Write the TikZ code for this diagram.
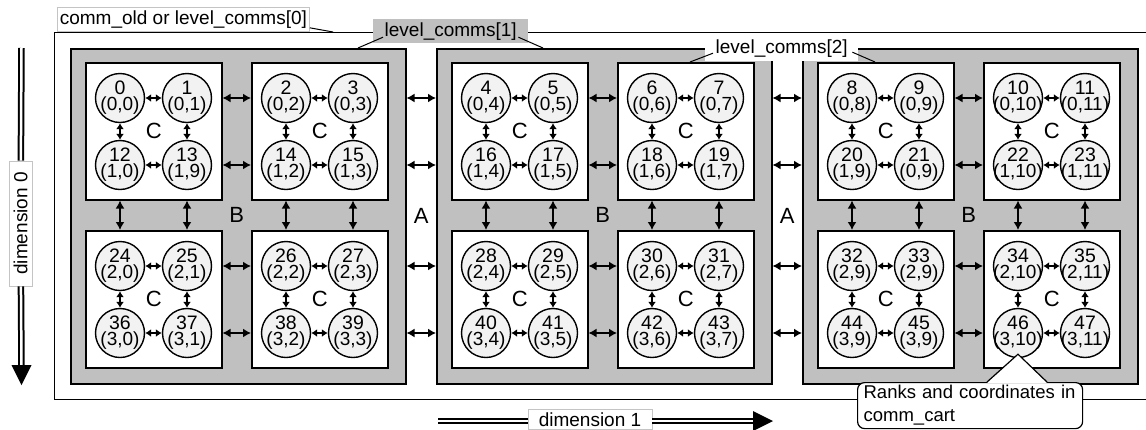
\documentclass[tikz,border=0pt]{standalone}
\usepackage{fontspec}
\setmainfont{Liberation Sans}
\usetikzlibrary{arrows.meta,calc}
\definecolor{grayfill}{HTML}{C0C0C0}
\definecolor{circfill}{HTML}{F2F2F2}
\definecolor{lblborder}{HTML}{C4C4C4}
\begin{document}
\begin{tikzpicture}[x=1pt,y=-1pt,
  outerbox/.style={draw=black, line width=1.3pt, inner sep=0pt, anchor=north west},
  graybox/.style={draw=black, fill=grayfill, line width=1.5pt, inner sep=0pt, anchor=north west, minimum width=335pt, minimum height=335pt},
  whitebox/.style={draw=black, fill=white, line width=1.5pt, inner sep=0pt, anchor=north west, minimum width=136pt, minimum height=137pt},
  rank/.style={circle, draw=black, fill=circfill, line width=1.4pt, minimum size=49pt, inner sep=-10pt, align=center, font=\fontsize{19.5}{16}\selectfont},
  tiny arrow/.style={line width=1.5pt, {Latex[length=6pt,width=8pt]}-{Latex[length=6pt,width=8pt]}},
  link/.style={line width=1.5pt, {Latex[length=8pt,width=9pt]}-{Latex[length=8pt,width=9pt]}},
  letter/.style={font=\fontsize{22}{24}\selectfont, inner sep=0pt},
  tag/.style={font=\fontsize{19}{22}\selectfont, inner sep=0pt},
  framedtag/.style={tag, fill=white, draw=lblborder, line width=0.8pt},
  pointer/.style={line width=1pt},
  dimline/.style={double=white, double distance=2.5pt, line width=2pt},
]
\useasboundingbox (0,0) rectangle (1146,429);

% outer communicator box
\node[outerbox, minimum width=1110pt, minimum height=367pt] (outer) at (54,32) {};

% gray boxes
\foreach \g in {0,1,2}{
  \pgfmathsetmacro\gx{70+366*\g}
  \node[graybox] (g\g) at (\gx,48) {};
}

% white boxes and C letters
\foreach \R in {0,1}{\foreach \B in {0,...,5}{
  \pgfmathsetmacro\bx{85+366*int(\B/2)+166*mod(\B,2)}
  \pgfmathsetmacro\by{62+168*\R}
  \node[whitebox] (w\R-\B) at (\bx,\by) {};
  \node[letter] (C\R\B) at (w\R-\B) {C};
}}

% B and A letters
\foreach \g in {0,1,2}{
  \pgfmathtruncatemacro\bl{2*\g}
  \pgfmathtruncatemacro\br{2*\g+1}
  \node[letter] (B\g) at ($(w0-\bl.south east)!0.5!(w1-\br.north west)$) {B};
}
\foreach \g in {0,1}{
  \pgfmathtruncatemacro\gg{\g+1}
  \node[letter] (A\g) at ($(g\g.east)!0.5!(g\gg.west)$) {A};
}

% ranks
\foreach \nn/\pa/\pb in {0/0/0,1/0/1,2/0/2,3/0/3,4/0/4,5/0/5,6/0/6,7/0/7,8/0/8,9/0/9,10/0/10,11/0/11,
  12/1/0,13/1/9,14/1/2,15/1/3,16/1/4,17/1/5,18/1/6,19/1/7,20/1/9,21/0/9,22/1/10,23/1/11,
  24/2/0,25/2/1,26/2/2,27/2/3,28/2/4,29/2/5,30/2/6,31/2/7,32/2/9,33/2/9,34/2/10,35/2/11,
  36/3/0,37/3/1,38/3/2,39/3/3,40/3/4,41/3/5,42/3/6,43/3/7,44/3/9,45/3/9,46/3/10,47/3/11}{
  \pgfmathtruncatemacro\rr{int(\nn/12)}
  \pgfmathtruncatemacro\cc{mod(\nn,12)}
  \pgfmathsetmacro\px{85+366*int(\cc/4)+166*mod(int(\cc/2),2)+35+67*mod(\cc,2)}
  \pgfmathsetmacro\py{62+168*int(\rr/2)+36+67*mod(\rr,2)}
  \node[rank] (c\nn) at (\px,\py) {\nn\\{\fontsize{19}{16}\selectfont(\pa,\pb)}};
}

% arrows between ranks inside a white box
\foreach \rr in {0,...,3}{\foreach \k in {0,...,5}{
  \pgfmathtruncatemacro\na{12*\rr+2*\k}
  \pgfmathtruncatemacro\nb{\na+1}
  \draw[tiny arrow] (c\na) -- (c\nb);
}}
\foreach \R in {0,1}{\foreach \cc in {0,...,11}{
  \pgfmathtruncatemacro\na{24*\R+\cc}
  \pgfmathtruncatemacro\nb{\na+12}
  \draw[tiny arrow] (c\na) -- (c\nb);
}}

% arrows between white boxes (horizontal)
\foreach \g in {0,1,2}{\foreach \rr in {0,...,3}{
  \pgfmathtruncatemacro\na{12*\rr+4*\g+1}
  \pgfmathtruncatemacro\nb{\na+1}
  \pgfmathtruncatemacro\R{int(\rr/2)}
  \pgfmathtruncatemacro\bl{2*\g}
  \pgfmathtruncatemacro\br{2*\g+1}
  \draw[link] (c\na -| w\R-\bl.east) -- (c\nb -| w\R-\br.west);
}}
% arrows between gray boxes
\foreach \g in {0,1}{\foreach \rr in {0,...,3}{
  \pgfmathtruncatemacro\na{12*\rr+4*\g+3}
  \pgfmathtruncatemacro\nb{\na+1}
  \pgfmathtruncatemacro\gg{\g+1}
  \draw[link] (c\na -| g\g.east) -- (c\nb -| g\gg.west);
}}
% arrows between white boxes (vertical)
\foreach \cc in {0,...,11}{
  \pgfmathtruncatemacro\na{12+\cc}
  \pgfmathtruncatemacro\nb{24+\cc}
  \pgfmathtruncatemacro\B{int(\cc/2)}
  \draw[link] (c\na |- w0-\B.south) -- (c\nb |- w1-\B.north);
}

% communicator labels
\node[framedtag, minimum width=252pt, minimum height=24pt, anchor=north west] (l0) at (57,7) {comm\_old or level\_comms[0]};
\coordinate (l0end) at (333,32);
\draw[pointer] ([yshift=4pt]l0.south east) -- (l0end);

\node[tag, fill=grayfill, minimum width=155pt, minimum height=24pt, anchor=north west] (l1) at (373,19) {level\_comms[1]};
\coordinate (l1a) at (358,48);
\coordinate (l1b) at (543,48);
\draw[pointer] ([xshift=10pt,yshift=-6pt]l1.west) -- (l1a);
\draw[pointer] ([xshift=-10pt,yshift=-6pt]l1.east) -- (l1b);

\node[tag, fill=white, minimum width=153pt, minimum height=26pt, anchor=north west] (l2) at (705,35) {level\_comms[2]};
\coordinate (l2a) at (690,62);
\coordinate (l2b) at (875,62);
\draw[pointer] ([xshift=8pt,yshift=-5pt]l2.west) -- (l2a);
\draw[pointer] ([xshift=-6pt,yshift=-4pt]l2.east) -- (l2b);

% dimension 0
\node[framedtag, rotate=90, minimum width=125pt, minimum height=23pt] (d0) at (20.5,223.5) {dimension 0};
\coordinate (d0s) at (21.5,48);
\coordinate (d0t) at (21.5,385);
\draw[dimline] (d0s) -- (d0);
\draw[dimline] (d0) -- ([yshift=19pt]d0t);
\fill (d0t) -- ++(-10,-20) -- ++(20,0) -- cycle;

% dimension 1
\node[framedtag, anchor=north, minimum width=124pt, minimum height=20pt] (d1) at (590,409) {dimension 1};
\coordinate (d1s) at (438,421);
\coordinate (d1t) at (773,421);
\draw[dimline] (d1s) -- (d1s -| d1.west);
\draw[dimline] (d1s -| d1.east) -- ([xshift=-17pt]d1t);
\fill (d1t) -- ++(-20,-10) -- ++(0,20) -- cycle;

% callout
\node[tag, draw=black, fill=white, line width=1.2pt, rounded corners=7pt, font=\fontsize{18.5}{23}\selectfont, align=left, anchor=north west, text width=213pt, inner xsep=6pt, minimum height=46pt] (note) at (857,382) {Ranks and coordinates in\\comm\_cart};
\coordinate (tip) at ([yshift=4pt]c46.south);
\fill[white] ([xshift=130pt,yshift=-1pt]note.north west) -- (tip) -- ([xshift=190pt,yshift=-1pt]note.north west) -- cycle;
\draw[line width=1.2pt] ([xshift=130pt]note.north west) -- (tip) -- ([xshift=190pt]note.north west);
\end{tikzpicture}
\end{document}
